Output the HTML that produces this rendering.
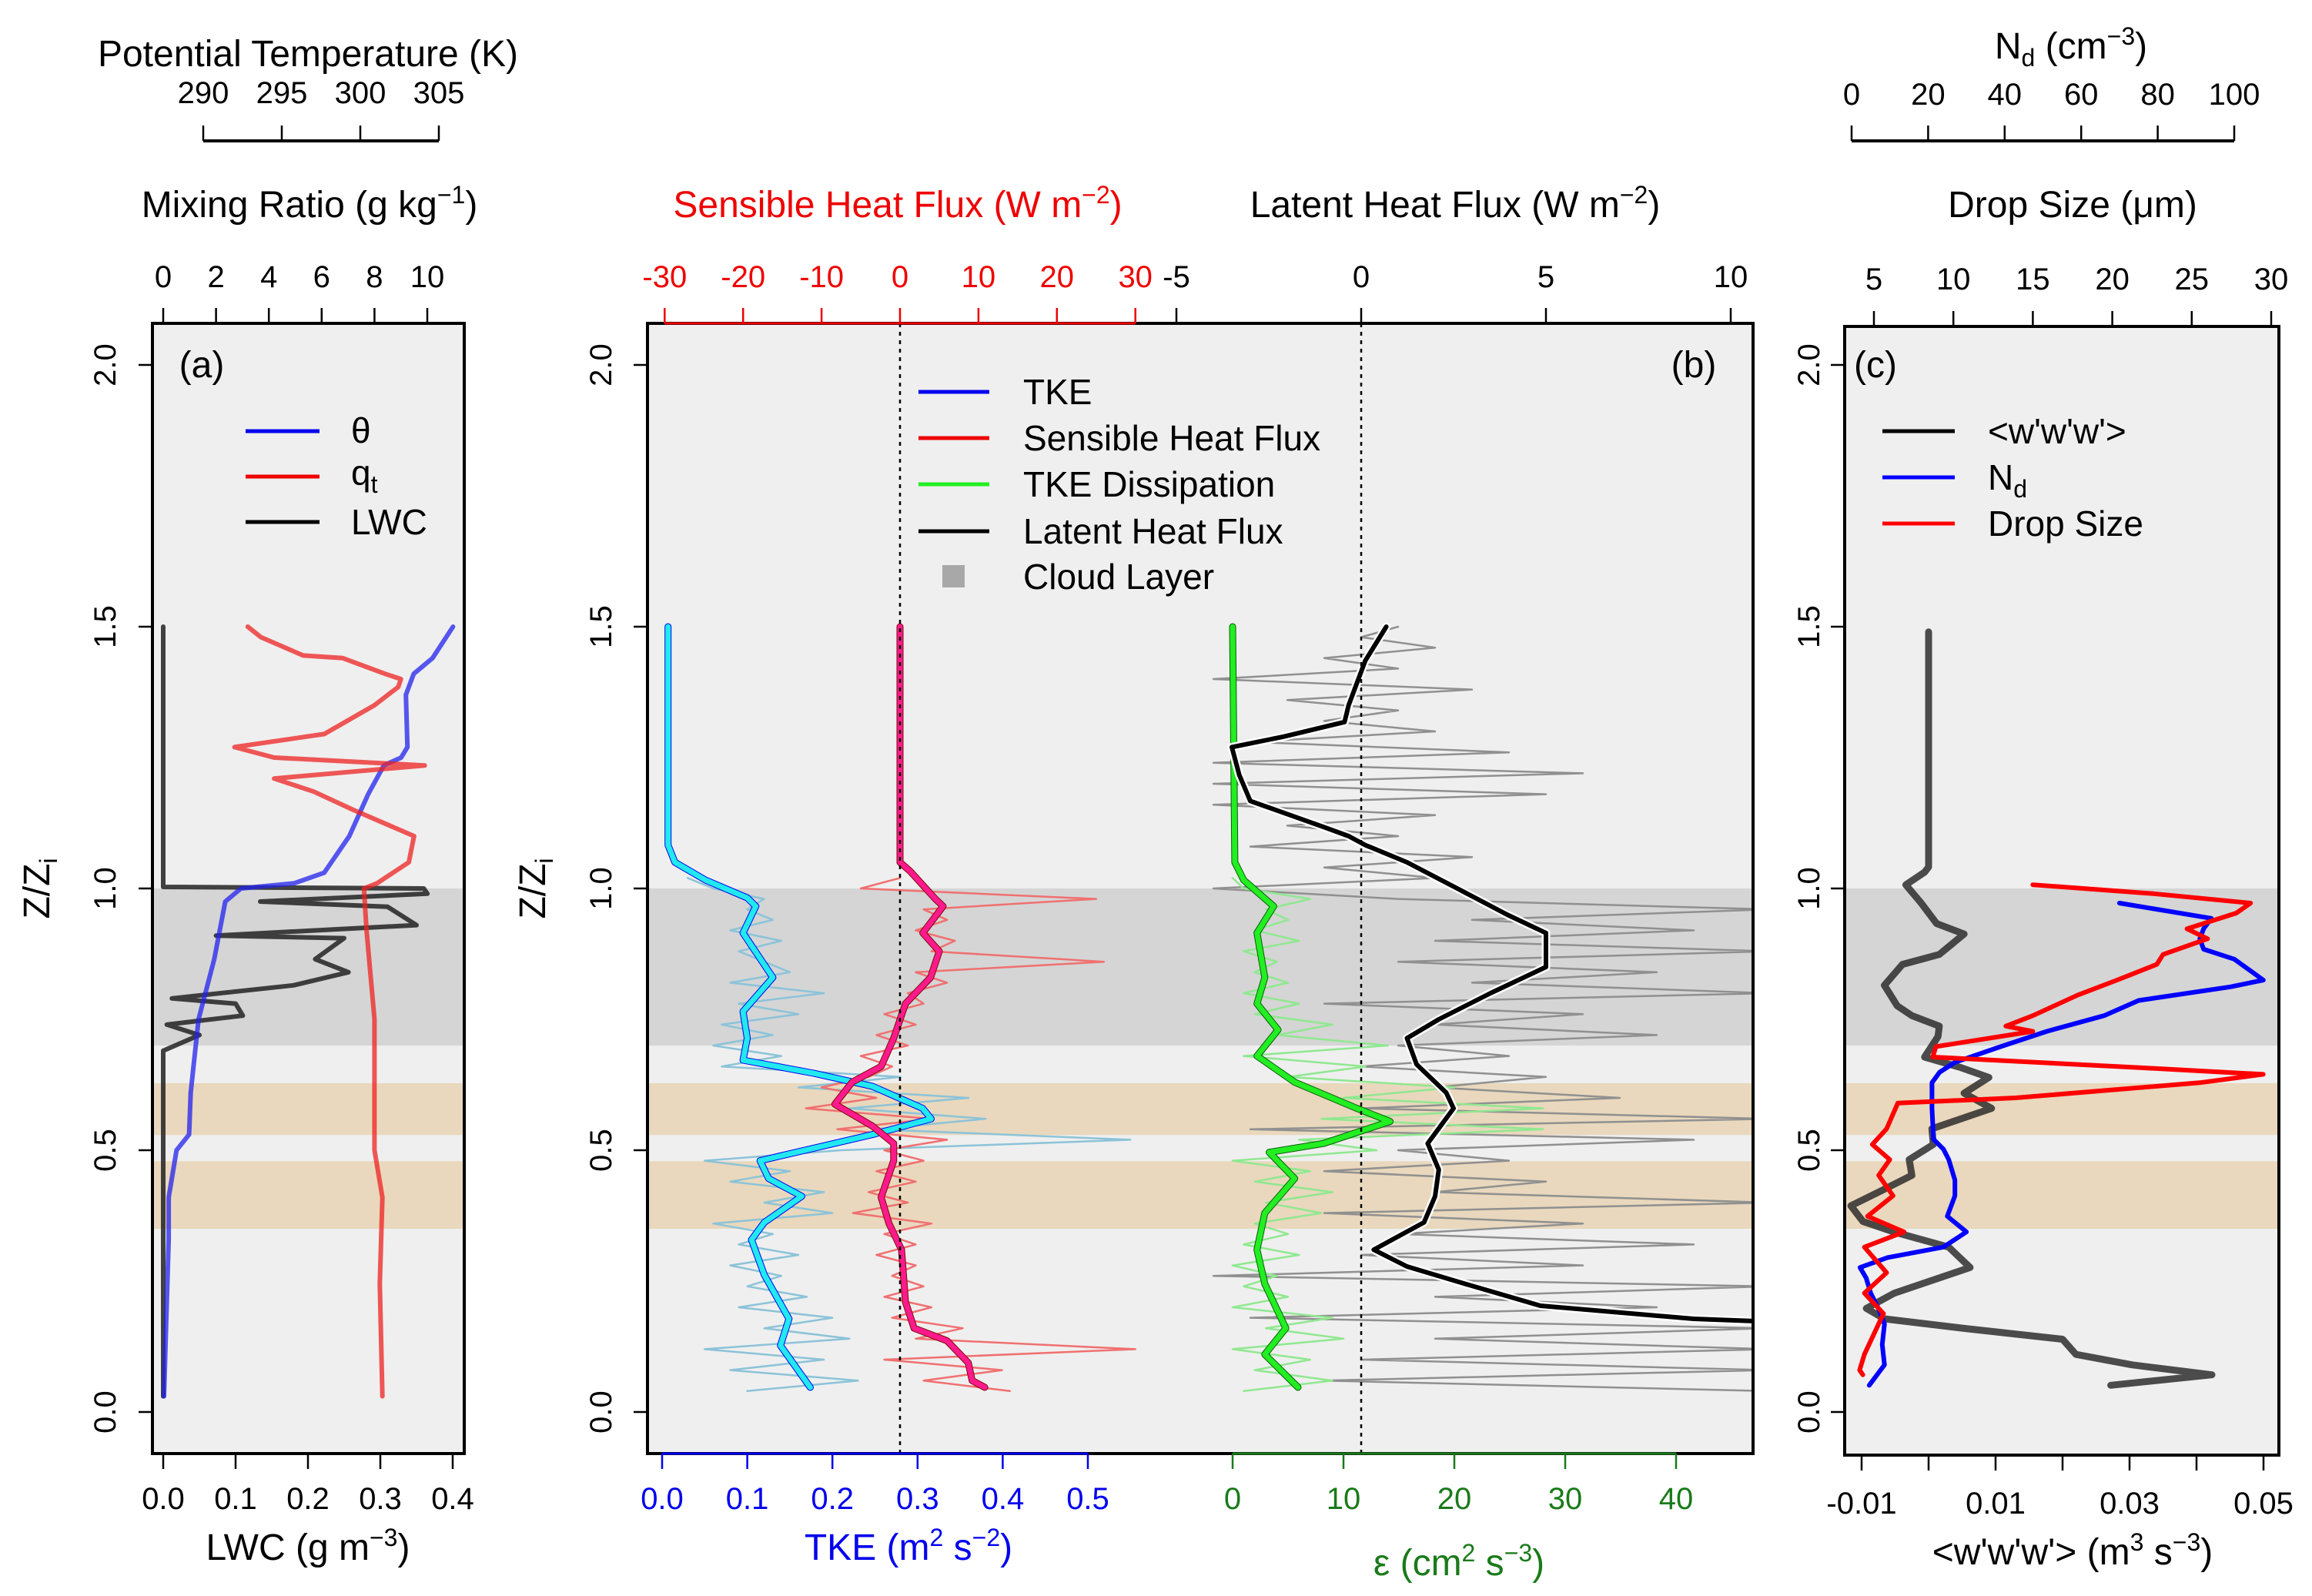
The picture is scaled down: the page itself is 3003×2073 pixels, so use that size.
<!DOCTYPE html>
<html><head><meta charset="utf-8"><style>
html,body{margin:0;padding:0;background:#fff}
svg{display:block}
text{font-family:"Liberation Sans",Arial,sans-serif}
</style></head><body>
<svg id="chart" width="3003" height="2073" viewBox="0 0 3003 2073" xmlns="http://www.w3.org/2000/svg">
<defs>
<clipPath id="clipA"><rect x="198" y="420" width="405" height="1468"/></clipPath>
<clipPath id="clipB"><rect x="841" y="420" width="1436" height="1468"/></clipPath>
<clipPath id="clipC"><rect x="2396" y="424" width="564" height="1466"/></clipPath>
</defs>
<g id="root"></g>
<g id="static" font-family="Liberation Sans, Arial, sans-serif">
<text x="400" y="86" font-size="48" text-anchor="middle">Potential Temperature (K)</text>
<text x="402" y="282" font-size="48" text-anchor="middle">Mixing Ratio (g kg<tspan font-size="32" dy="-18">−1</tspan><tspan dy="18">)</tspan></text>
<text x="1166" y="282" font-size="48" text-anchor="middle" fill="#ee0000">Sensible Heat Flux (W m<tspan font-size="32" dy="-18">−2</tspan><tspan dy="18">)</tspan></text>
<text x="1890" y="282" font-size="48" text-anchor="middle">Latent Heat Flux (W m<tspan font-size="32" dy="-18">−2</tspan><tspan dy="18">)</tspan></text>
<text x="2690" y="76" font-size="48" text-anchor="middle">N<tspan font-size="32" dy="10">d</tspan><tspan dy="-10"> (cm</tspan><tspan font-size="32" dy="-18">−3</tspan><tspan dy="18">)</tspan></text>
<text x="2692" y="282" font-size="48" text-anchor="middle">Drop Size (μm)</text>
<text x="400" y="2026" font-size="48" text-anchor="middle">LWC (g m<tspan font-size="32" dy="-18">−3</tspan><tspan dy="18">)</tspan></text>
<text x="1180" y="2026" font-size="48" text-anchor="middle" fill="#0000ee">TKE (m<tspan font-size="32" dy="-18">2</tspan><tspan dy="18"> s</tspan><tspan font-size="32" dy="-18">−2</tspan><tspan dy="18">)</tspan></text>
<text x="1895" y="2046" font-size="48" text-anchor="middle" fill="#1a7a1a">ε (cm<tspan font-size="32" dy="-18">2</tspan><tspan dy="18"> s</tspan><tspan font-size="32" dy="-18">−3</tspan><tspan dy="18">)</tspan></text>
<text x="2692" y="2032" font-size="48" text-anchor="middle">&lt;w'w'w'&gt; (m<tspan font-size="32" dy="-18">3</tspan><tspan dy="18"> s</tspan><tspan font-size="32" dy="-18">−3</tspan><tspan dy="18">)</tspan></text>
<text x="0" y="0" font-size="48" text-anchor="middle" transform="translate(64 1154) rotate(-90)">Z/Z<tspan font-size="32" dy="10">i</tspan></text>
<text x="0" y="0" font-size="48" text-anchor="middle" transform="translate(708 1154) rotate(-90)">Z/Z<tspan font-size="32" dy="10">i</tspan></text>
<text x="262" y="490" font-size="48" text-anchor="middle">(a)</text>
<text x="2200" y="490" font-size="48" text-anchor="middle">(b)</text>
<text x="2436" y="490" font-size="48" text-anchor="middle">(c)</text>
</g>
<g font-family="Liberation Sans, Arial, sans-serif" font-size="46">
<line x1="319" x2="415" y1="560" y2="560" stroke="#0000ee" stroke-width="5"/><text x="456" y="575">θ</text>
<line x1="319" x2="415" y1="619" y2="619" stroke="#ee0000" stroke-width="5"/><text x="456" y="630">q<tspan font-size="32" dy="10">t</tspan></text>
<line x1="319" x2="415" y1="678" y2="678" stroke="#000" stroke-width="5"/><text x="456" y="694">LWC</text>
</g>
<g font-family="Liberation Sans, Arial, sans-serif" font-size="46">
<line x1="1193" x2="1285" y1="509" y2="509" stroke="#0000ee" stroke-width="5"/><text x="1329" y="525">TKE</text>
<line x1="1193" x2="1285" y1="569" y2="569" stroke="#ee0000" stroke-width="5"/><text x="1329" y="585">Sensible Heat Flux</text>
<line x1="1193" x2="1285" y1="629" y2="629" stroke="#22ee22" stroke-width="5"/><text x="1329" y="645">TKE Dissipation</text>
<line x1="1193" x2="1285" y1="690" y2="690" stroke="#000" stroke-width="5"/><text x="1329" y="706">Latent Heat Flux</text>
<rect x="1224" y="734" width="29" height="29" fill="#a8a8a8"/><text x="1329" y="765">Cloud Layer</text>
</g>
<g font-family="Liberation Sans, Arial, sans-serif" font-size="46">
<line x1="2445" x2="2539" y1="560" y2="560" stroke="#000" stroke-width="5"/><text x="2582" y="576">&lt;w'w'w'&gt;</text>
<line x1="2445" x2="2539" y1="620" y2="620" stroke="#0000ff" stroke-width="5"/><text x="2582" y="636">N<tspan font-size="32" dy="10">d</tspan></text>
<line x1="2445" x2="2539" y1="680" y2="680" stroke="#ff0000" stroke-width="5"/><text x="2582" y="696">Drop Size</text>
</g>
</svg>
<script>
// ---------- DATA ----------
const thetaZ = [1.5,1.44,1.41,1.37,1.27,1.25,1.235,1.18,1.10,1.03,1.01,1.0,0.975,0.865,0.75,0.61,0.53,0.5,0.41,0.33,0.03];
const thetaV = [305.9,304.6,303.4,302.9,303.0,302.6,301.5,300.5,299.3,297.7,295.8,292.4,291.4,290.7,289.7,289.2,289.1,288.3,287.8,287.8,287.5];
const qtZ = [1.5,1.48,1.445,1.44,1.41,1.40,1.385,1.35,1.295,1.27,1.25,1.235,1.21,1.185,1.15,1.10,1.05,1.01,1.0,0.92,0.75,0.58,0.5,0.41,0.245,0.03];
const qtV = [3.2,3.7,5.3,6.8,8.4,9.0,8.9,8.0,6.1,2.7,4.2,9.9,4.2,5.7,7.2,9.5,9.3,8.1,7.6,7.7,8.0,8.0,8.0,8.3,8.2,8.3];
const lwcZ = [1.5,1.003,1.0,0.99,0.975,0.965,0.93,0.91,0.905,0.865,0.84,0.815,0.79,0.78,0.757,0.74,0.72,0.69,0.6,0.03];
const lwcV = [0.0,0.0,0.36,0.365,0.134,0.31,0.35,0.073,0.25,0.21,0.256,0.18,0.012,0.10,0.11,0.005,0.05,0.0,0.0,0.0];
const tkeZ = [1.5,1.083,1.05,1.016,0.982,0.966,0.915,0.83,0.765,0.714,0.672,0.647,0.622,0.58,0.56,0.53,0.48,0.446,0.412,0.362,0.329,0.262,0.178,0.127,0.047];
const tkeV = [0.007,0.007,0.015,0.051,0.10,0.11,0.095,0.13,0.095,0.10,0.095,0.178,0.247,0.306,0.316,0.247,0.115,0.125,0.164,0.12,0.105,0.12,0.149,0.139,0.174];
const shfZ = [1.5,1.05,1.033,0.98,0.966,0.915,0.88,0.83,0.78,0.714,0.66,0.63,0.588,0.546,0.513,0.48,0.41,0.36,0.31,0.21,0.16,0.136,0.094,0.06,0.047];
const shfV = [0,0,1.3,4.5,5.5,2.9,5.0,3.9,0.7,-0.8,-2.4,-6.1,-8.3,-3.5,-0.8,-0.8,-2.4,-1.4,0.2,0.7,1.8,6.0,8.7,9.2,10.8];
const epsZ = [1.5,1.05,1.016,0.966,0.915,0.83,0.78,0.73,0.68,0.63,0.58,0.555,0.513,0.496,0.446,0.38,0.31,0.245,0.16,0.11,0.047];
const epsV = [0,0.2,1.0,3.7,2.2,2.9,2.2,4.1,2.2,5.6,11.2,14.2,8.2,3.3,5.6,2.9,2.2,2.9,4.8,2.9,5.9];
const lhfZ = [1.5,1.435,1.35,1.318,1.29,1.27,1.217,1.167,1.117,1.1,1.083,1.05,1.0,0.95,0.915,0.85,0.8,0.75,0.714,0.664,0.61,0.58,0.513,0.463,0.412,0.362,0.31,0.278,0.245,0.203,0.178,0.17];
const lhfV = [0.68,0.11,-0.34,-0.45,-2.1,-3.5,-3.3,-3.0,-1.0,-0.34,0.11,1.24,2.6,3.95,5.0,5.0,3.5,2.1,1.24,1.5,2.3,2.5,1.8,2.1,2.0,1.7,0.34,1.24,2.8,4.85,9.0,12];
const rawZ = [0.04,0.06,0.08,0.10,0.12,0.14,0.16,0.18,0.20,0.22,0.24,0.26,0.28,0.30,0.32,0.34,0.36,0.38,0.40,0.42,0.44,0.46,0.48,0.50,0.52,0.54,0.56,0.58,0.60,0.62,0.64,0.66,0.68,0.70,0.72,0.74,0.76,0.78,0.80,0.82,0.84,0.86,0.88,0.90,0.92,0.94,0.96,0.98,1.00,1.02];
const tkeRaw = [0.10,0.23,0.08,0.19,0.05,0.22,0.12,0.20,0.09,0.17,0.10,0.14,0.08,0.16,0.09,0.13,0.06,0.20,0.12,0.19,0.08,0.15,0.05,0.21,0.55,0.25,0.38,0.22,0.36,0.16,0.28,0.07,0.14,0.06,0.13,0.07,0.16,0.09,0.19,0.08,0.15,0.12,0.09,0.14,0.08,0.13,0.10,0.12,0.06,0.03];
const shfRaw = [14,3,13,-2,30,2,8,-1,4,-2,3,-1,2,-3,2,-2,4,-6,1,-4,2,-3,3,-2,6,-8,4,-12,-3,-10,-4,-1,-5,1,-3,2,-2,3,1,6,2,26,4,7,2,6,3,25,-5,0];
const epsRaw = [1,9,2,7,0,10,3,9,0,5,1,4,0,6,1,5,2,8,3,9,2,7,0,13,6,28,8,28,10,20,5,12,1,14,4,9,2,6,1,5,2,4,1,6,2,5,3,7,1,0];
const lhfRawZ = [0.04,0.06,0.08,0.10,0.12,0.14,0.16,0.18,0.20,0.22,0.24,0.26,0.28,0.30,0.32,0.34,0.36,0.38,0.40,0.42,0.44,0.46,0.48,0.50,0.52,0.54,0.56,0.58,0.60,0.62,0.64,0.66,0.68,0.70,0.72,0.74,0.76,0.78,0.80,0.82,0.84,0.86,0.88,0.90,0.92,0.94,0.96,0.98,1.00,1.02,1.04,1.06,1.08,1.10,1.12,1.14,1.16,1.18,1.20,1.22,1.24,1.26,1.28,1.30,1.32,1.34,1.36,1.38,1.40,1.42,1.44,1.46,1.48,1.50];
const lhfRaw = [11,-1,11,0,11,2,11,-3,8,2,11,-4,6,0,9,1,6,-1,11,2,5,-1,4,1,9,-3,11,0,7,2,5,0,4,1,8,2,6,-1,11,3,8,1,11,2,9,3,11,1,-4,2,-1,3,-3,1,-2,2,-4,5,-4,6,-4,4,-3,2,-1,1,-2,3,-4,1,-1,2,0,1];
const wZ = [1.49,1.041,1.031,1.007,0.972,0.933,0.913,0.874,0.855,0.815,0.776,0.757,0.737,0.717,0.678,0.658,0.639,0.609,0.58,0.541,0.511,0.482,0.452,0.423,0.394,0.364,0.344,0.315,0.276,0.227,0.198,0.178,0.159,0.139,0.11,0.09,0.071,0.051];
const wV = [0,0,-0.0006,-0.0034,-0.0011,0.0012,0.0053,0.0016,-0.0039,-0.0066,-0.0047,-0.0025,0.0016,0.0014,-0.0006,0.0048,0.009,0.0053,0.0094,0.0005,0.0007,-0.0029,-0.0025,-0.007,-0.0116,-0.0098,-0.0052,0.003,0.0062,-0.0051,-0.0093,-0.0066,0.0058,0.02,0.022,0.0304,0.0423,0.0272];
const ndZ = [0.972,0.943,0.923,0.904,0.884,0.865,0.825,0.812,0.786,0.757,0.727,0.698,0.668,0.649,0.629,0.58,0.521,0.502,0.482,0.443,0.413,0.374,0.344,0.315,0.295,0.276,0.256,0.227,0.198,0.168,0.129,0.09,0.051];
const ndV = [70,94,92,91,92,100,107.6,99,75,66,51,39,27,23,21,21,21.4,24,25.4,27,27,25,30,24,9.4,2.2,3.8,5,7,8.6,8,8.6,4.6];
const dsZ = [1.007,0.99,0.972,0.953,0.923,0.904,0.874,0.855,0.825,0.796,0.757,0.737,0.727,0.698,0.678,0.658,0.645,0.629,0.60,0.59,0.541,0.511,0.482,0.452,0.413,0.374,0.344,0.315,0.266,0.227,0.188,0.149,0.11,0.08,0.071];
const dsV = [15,22.6,28.7,27.8,24.7,26,23.2,22.8,20.3,17.8,15,13.3,15,8.9,8.7,21.6,29.5,25.5,13.9,6.5,5.8,4.9,6.0,5.3,6.2,4.6,6.9,4.4,5.8,4.4,5.6,5.0,4.4,4.1,4.3];
const zTicks = [0,0.5,1,1.5,2];
const zTickLabels = ["0.0","0.5","1.0","1.5","2.0"];
const lwcTicks = [0,0.1,0.2,0.3,0.4];
const lwcLabels = ["0.0","0.1","0.2","0.3","0.4"];
const qtTicks = [0,2,4,6,8,10];
const thetaTicks = [290,295,300,305];
const tkeTicks = [0,0.1,0.2,0.3,0.4,0.5];
const tkeLabels = ["0.0","0.1","0.2","0.3","0.4","0.5"];
const shfTicks = [-30,-20,-10,0,10,20,30];
const lhfTicks = [-5,0,5,10];
const epsTicks = [0,10,20,30,40];
const wTicks = [-0.01,0,0.01,0.02,0.03,0.04,0.05];
const wLabels = ["-0.01","","0.01","","0.03","","0.05"];
const dsTicks = [5,10,15,20,25,30];
const ndTicks = [0,20,40,60,80,100];

const Y = z => 1834 - 680*z;
const xLWC = v => 212 + 940*v;
const xTheta = v => 264 + 20.4*(v-290);
const xQt = v => 212 + 34.3*v;
const xTKE = v => 860 + 1106*v;
const xSHF = v => 1169 + 10.19*v;
const xEps = v => 1601 + 14.4*v;
const xLHF = v => 1768 + 48*v;
const xW = v => 2418 + 8700*(v+0.01);
const xNd = v => 2405 + 4.97*v;
const xDS = v => 2434 + 20.64*(v-5);

const NS = "http://www.w3.org/2000/svg";
const root = document.getElementById('root');
function mk(tag, attrs, parent){
  const e = document.createElementNS(NS, tag);
  for (const k in attrs) e.setAttribute(k, attrs[k]);
  (parent||root).appendChild(e);
  return e;
}
function series(parent, zs, vs, sx, stroke, w, op){
  let d = '';
  for (let i=0;i<zs.length;i++) d += (i?'L':'M') + sx(vs[i]).toFixed(1) + ' ' + Y(zs[i]).toFixed(1);
  return mk('path', {d:d, fill:'none', stroke:stroke, 'stroke-width':w, 'stroke-linejoin':'round', 'stroke-linecap':'round', opacity:op}, parent);
}
function txt(x,y,s,size,fill,anchor,parent){
  const t = mk('text',{x:x,y:y,'font-size':size,fill:fill||'#000','text-anchor':anchor||'middle','dominant-baseline':'central'},parent);
  t.textContent = s;
  return t;
}
function panelBg(x,w,y,h,name){
  const g = mk('g',{});
  
  
  mk('rect',{x:x,y:y,width:w,height:h,fill:'#efefef'},g);
  mk('rect',{x:x,y:Y(1.0),width:w,height:Y(0.7)-Y(1.0),fill:'#d5d5d5'},g);
  mk('rect',{x:x,y:Y(0.628),width:w,height:Y(0.529)-Y(0.628),fill:'#e9d8bd'},g);
  mk('rect',{x:x,y:Y(0.479),width:w,height:Y(0.35)-Y(0.479),fill:'#e9d8bd'},g);
}
panelBg(198,405,420,1468,'panel-a-background');
panelBg(841,1436,420,1468,'panel-b-background');
panelBg(2396,564,424,1466,'panel-c-background');

const gA = mk('g',{'clip-path':'url(#clipA)'});


let s;
s = series(gA, lwcZ, lwcV, xLWC, '#222', 6, 0.85);


s = series(gA, thetaZ, thetaV, xTheta, '#2222ee', 6, 0.75);


s = series(gA, qtZ, qtV, xQt, '#ee2222', 6, 0.75);



const gB = mk('g',{'clip-path':'url(#clipB)'});


s = series(gB, lhfRawZ, lhfRaw, xLHF, '#909090', 2.5, 1);


s = series(gB, rawZ, tkeRaw, xTKE, '#8cc3d8', 2.5, 1);


s = series(gB, rawZ, shfRaw, xSHF, '#f07070', 2.5, 1);


s = series(gB, rawZ, epsRaw, xEps, '#90e890', 2.5, 1);


const dz1 = mk('line',{x1:xSHF(0),x2:xSHF(0),y1:420,y2:1888,stroke:'#000','stroke-width':2.5,'stroke-dasharray':'5,6'});


const dz2 = mk('line',{x1:xLHF(0),x2:xLHF(0),y1:420,y2:1888,stroke:'#000','stroke-width':2.5,'stroke-dasharray':'5,6'});


s = series(gB, tkeZ, tkeV, xTKE, '#0000ee', 9, 1);


s = series(gB, tkeZ, tkeV, xTKE, '#22e8f0', 7, 1);


s = series(gB, shfZ, shfV, xSHF, '#7a0a0a', 9, 1);


s = series(gB, shfZ, shfV, xSHF, '#ff1a8c', 7, 1);


s = series(gB, epsZ, epsV, xEps, '#0a5a0a', 9, 1);


s = series(gB, epsZ, epsV, xEps, '#22ee22', 7, 1);


s = series(gB, lhfZ, lhfV, xLHF, '#ffffff', 11, 1);


s = series(gB, lhfZ, lhfV, xLHF, '#000000', 6, 1);



const gC = mk('g',{'clip-path':'url(#clipC)'});


s = series(gC, wZ, wV, xW, '#222', 9, 0.8);


s = series(gC, ndZ, ndV, xNd, '#0000ff', 6, 1);


s = series(gC, dsZ, dsV, xDS, '#ff0000', 6, 1);



[[198,420,405,1468,'panel-a-frame'],[841,420,1436,1468,'panel-b-frame'],[2396,424,564,1466,'panel-c-frame']].forEach(b=>{
  const r = mk('rect',{x:b[0],y:b[1],width:b[2],height:b[3],fill:'none',stroke:'#000','stroke-width':4});
  
  
});

function hAxis(ticks, labels, sx, yLine, dir, labelY, color, name, lw){
  const g = mk('g',{});
  
  
  mk('line',{x1:sx(ticks[0]),x2:sx(ticks[ticks.length-1]),y1:yLine,y2:yLine,stroke:color,'stroke-width':lw||3},g);
  ticks.forEach((t,i)=>{
    mk('line',{x1:sx(t),x2:sx(t),y1:yLine,y2:yLine+dir*20,stroke:color,'stroke-width':2.5},g);
    const lab = labels ? labels[i] : String(t);
    if (lab!=='') txt(sx(t), labelY, lab, 40, color, 'middle', g);
  });
}
function yAxis(xBox, labelX, name){
  const g = mk('g',{});
  
  
  zTicks.forEach((t,i)=>{
    mk('line',{x1:xBox,x2:xBox-18,y1:Y(t),y2:Y(t),stroke:'#000','stroke-width':2.5},g);
    const tt = txt(labelX, Y(t), zTickLabels[i], 40, '#000', 'middle', g);
    tt.setAttribute('transform','rotate(-90 '+labelX+' '+Y(t)+')');
  });
}
yAxis(198,137,'panel-a-y-axis');
yAxis(841,781,'panel-b-y-axis');
yAxis(2396,2350,'panel-c-y-axis');

hAxis(lwcTicks, lwcLabels, xLWC, 1888, 1, 1947, '#000', 'lwc-x-axis');
hAxis(qtTicks, null, xQt, 420, -1, 360, '#000', 'mixing-ratio-axis');
hAxis(thetaTicks, null, xTheta, 183, -1, 121, '#000', 'theta-axis', 4);
hAxis(tkeTicks, tkeLabels, xTKE, 1888, 1, 1947, '#0000ee', 'tke-x-axis');
hAxis(epsTicks, null, xEps, 1888, 1, 1947, '#1a7a1a', 'epsilon-x-axis');
hAxis(shfTicks, null, xSHF, 420, -1, 360, '#ee0000', 'sensible-heat-axis');
hAxis(lhfTicks, null, xLHF, 420, -1, 360, '#000', 'latent-heat-axis');
hAxis(wTicks, wLabels, xW, 1890, 1, 1953, '#000', 'w-skewness-x-axis');
hAxis(dsTicks, null, xDS, 424, -1, 363, '#000', 'drop-size-axis');
hAxis(ndTicks, null, xNd, 183, -1, 123, '#000', 'nd-axis', 4);
</script>
</body></html>
